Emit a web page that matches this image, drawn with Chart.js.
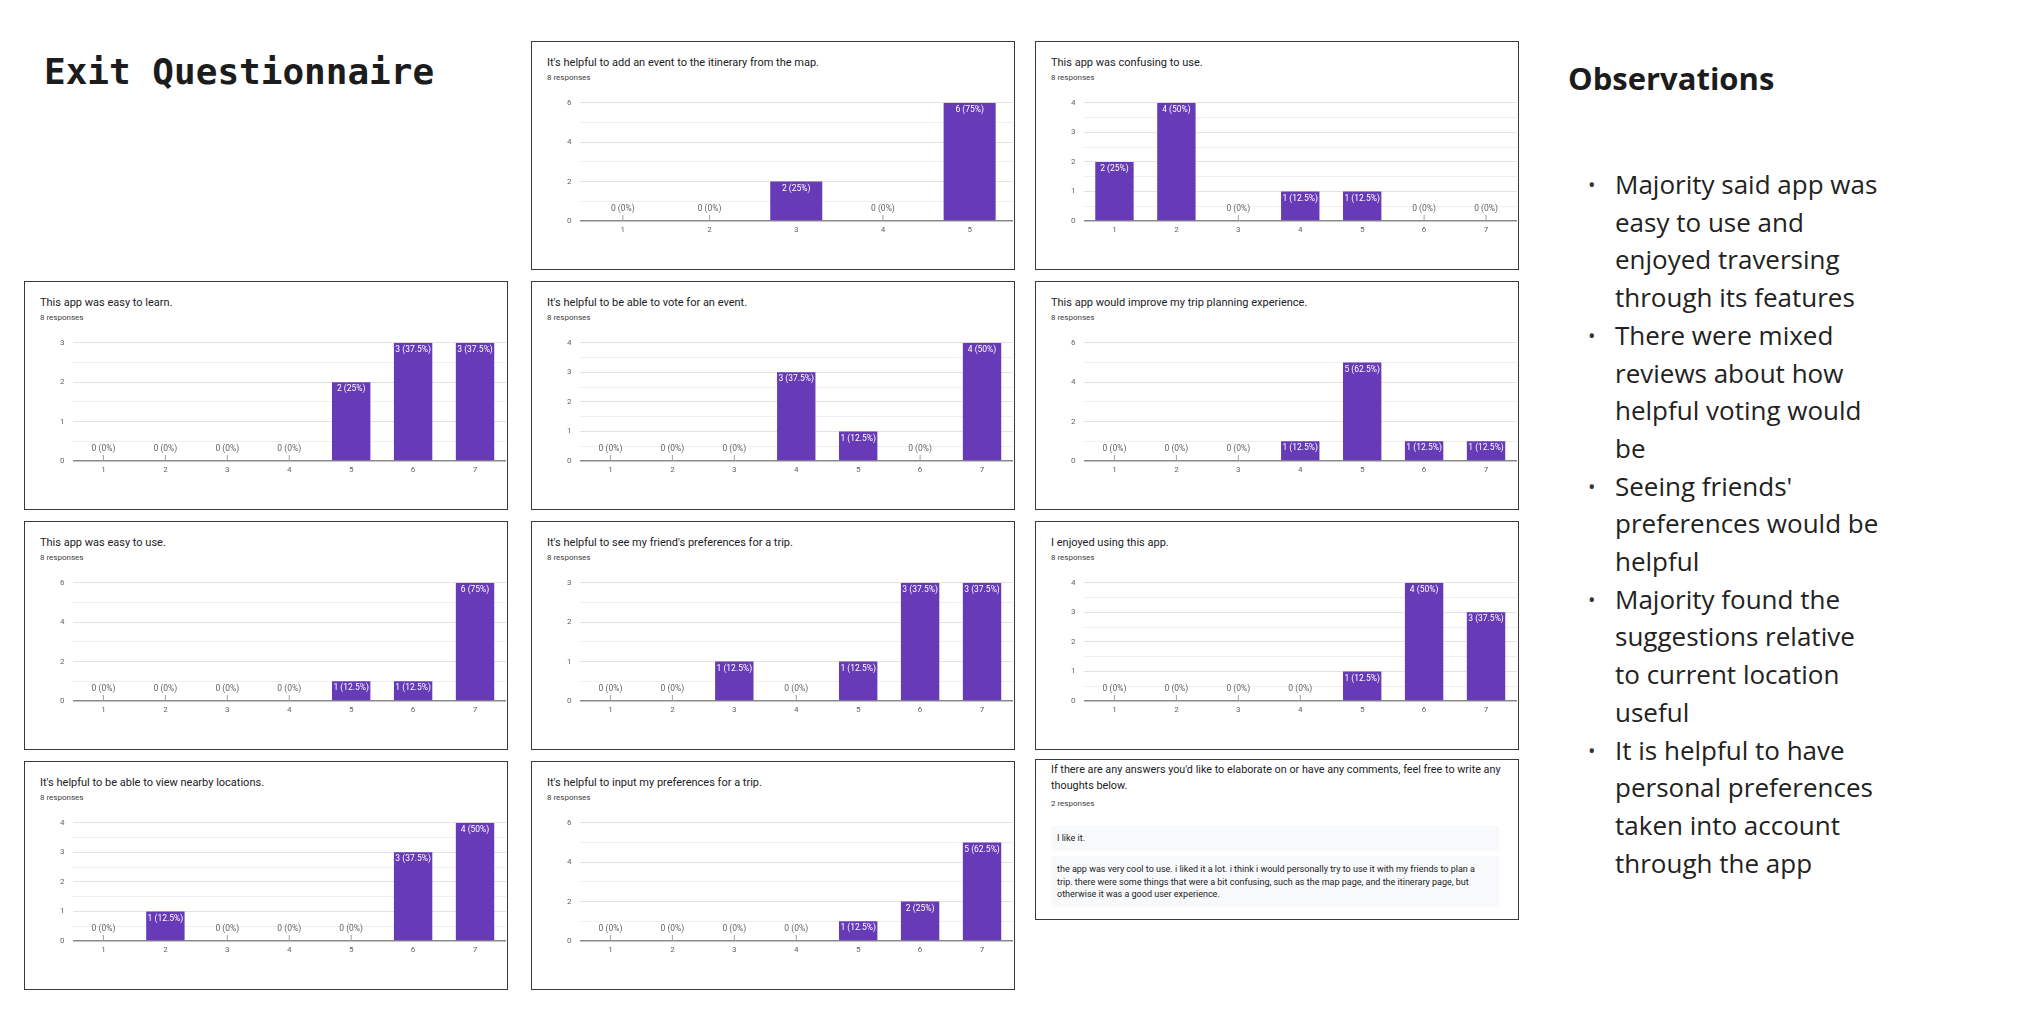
<!DOCTYPE html>
<html>
<head>
<meta charset="utf-8">
<script src="https://cdn.jsdelivr.net/npm/chart.js@4.4.0/dist/chart.umd.min.js"></script>
<style>
  html, body { margin: 0; padding: 0; background: #fff; }
  #slide { position: relative; width: 2017px; height: 1016px; overflow: hidden; }
  .title { position: absolute; left: 44px; top: 54px; margin: 0; font: bold 36px/36px "DejaVu Sans Mono", monospace; color: #1c1c1c; }
  .panel { position: absolute; width: 484px; height: 229px; box-sizing: border-box; border: 1.5px solid #3a3a3a; background: #fff; font-family: Roboto, Arial, sans-serif; }
  .panel .q { position: absolute; left: 15px; top: 14px; font-size: 11px; line-height: 14px; color: #202124; white-space: nowrap; }
  .panel .n { position: absolute; left: 15px; top: 30px; font-size: 8px; line-height: 12px; color: #3c4043; }
  .panel canvas { position: absolute; left: 0; top: 48px; }
  .textpanel { height: 161px; }
  .textpanel .q { top: 2px; font-size: 10.8px; line-height: 16px; white-space: normal; width: 460px; }
  .textpanel .n { top: 38px; }
  .answer { position: absolute; left: 15px; width: 448px; background: #f8f9fa; font-size: 9px; line-height: 12.5px; color: #202124; box-sizing: border-box; padding: 0 6px; }
  .obs-h { position: absolute; left: 1568px; top: 63px; margin: 0; font: 700 31px/31px "Open Sans", sans-serif; color: #1c1c1c; }
  .obs { position: absolute; left: 1588px; top: 166px; margin: 0; padding: 0; list-style: none; font: 400 26px/37.7px "Open Sans", sans-serif; color: #222; white-space: nowrap; }
  .obs li { position: relative; padding-left: 27px; }
  .obs li::before { content: "\2022"; position: absolute; left: 0; top: 0; font-size: 20px; color: #333; }
</style>
</head>
<body>
<div id="slide">
  <h1 class="title">Exit Questionnaire</h1>

  <div class="panel" style="left:531px;top:41px">
    <div class="q">It's helpful to add an event to the itinerary from the map.</div>
    <div class="n">8 responses</div>
    <canvas id="addFromMap" width="481" height="176"></canvas>
  </div>
  <div class="panel" style="left:1035px;top:41px">
    <div class="q">This app was confusing to use.</div>
    <div class="n">8 responses</div>
    <canvas id="confusing" width="481" height="176"></canvas>
  </div>

  <div class="panel" style="left:24px;top:281px">
    <div class="q">This app was easy to learn.</div>
    <div class="n">8 responses</div>
    <canvas id="easyToLearn" width="481" height="176"></canvas>
  </div>
  <div class="panel" style="left:531px;top:281px">
    <div class="q">It's helpful to be able to vote for an event.</div>
    <div class="n">8 responses</div>
    <canvas id="voteForEvent" width="481" height="176"></canvas>
  </div>
  <div class="panel" style="left:1035px;top:281px">
    <div class="q">This app would improve my trip planning experience.</div>
    <div class="n">8 responses</div>
    <canvas id="improvesTrip" width="481" height="176"></canvas>
  </div>

  <div class="panel" style="left:24px;top:521px">
    <div class="q">This app was easy to use.</div>
    <div class="n">8 responses</div>
    <canvas id="easyToUse" width="481" height="176"></canvas>
  </div>
  <div class="panel" style="left:531px;top:521px">
    <div class="q">It's helpful to see my friend's preferences for a trip.</div>
    <div class="n">8 responses</div>
    <canvas id="friendsPrefs" width="481" height="176"></canvas>
  </div>
  <div class="panel" style="left:1035px;top:521px">
    <div class="q">I enjoyed using this app.</div>
    <div class="n">8 responses</div>
    <canvas id="enjoyed" width="481" height="176"></canvas>
  </div>

  <div class="panel" style="left:24px;top:761px">
    <div class="q">It's helpful to be able to view nearby locations.</div>
    <div class="n">8 responses</div>
    <canvas id="nearby" width="481" height="176"></canvas>
  </div>
  <div class="panel" style="left:531px;top:761px">
    <div class="q">It's helpful to input my preferences for a trip.</div>
    <div class="n">8 responses</div>
    <canvas id="inputPrefs" width="481" height="176"></canvas>
  </div>
  <div class="panel textpanel" style="left:1035px;top:759px">
    <div class="q">If there are any answers you'd like to elaborate on or have any comments, feel free to write any<br>thoughts below.</div>
    <div class="n">2 responses</div>
    <div class="answer" style="top:66px;height:25px;line-height:25px">I like it.</div>
    <div class="answer" style="top:96px;height:51px;padding-top:7px">the app was very cool to use. i liked it a lot. i think i would personally try to use it with my friends to plan a<br>trip. there were some things that were a bit confusing, such as the map page, and the itinerary page, but<br>otherwise it was a good user experience.</div>
  </div>

  <h2 class="obs-h">Observations</h2>
  <ul class="obs">
    <li>Majority said app was<br>easy to use and<br>enjoyed traversing<br>through its features</li>
    <li>There were mixed<br>reviews about how<br>helpful voting would<br>be</li>
    <li>Seeing friends'<br>preferences would be<br>helpful</li>
    <li>Majority found the<br>suggestions relative<br>to current location<br>useful</li>
    <li>It is helpful to have<br>personal preferences<br>taken into account<br>through the app</li>
  </ul>
</div>

<script>
// answer scales
const likert5 = ['1', '2', '3', '4', '5'];
const likert7 = ['1', '2', '3', '4', '5', '6', '7'];
const respondents = 8;

// number of answers per scale point
const addFromMap   = [0, 0, 2, 0, 6];
const confusing    = [2, 4, 0, 1, 1, 0, 0];
const easyToLearn  = [0, 0, 0, 0, 2, 3, 3];
const voteForEvent = [0, 0, 0, 3, 1, 0, 4];
const improvesTrip = [0, 0, 0, 1, 5, 1, 1];
const easyToUse    = [0, 0, 0, 0, 1, 1, 6];
const friendsPrefs = [0, 0, 1, 0, 1, 3, 3];
const enjoyed      = [0, 0, 0, 0, 1, 4, 3];
const nearby       = [0, 1, 0, 0, 0, 3, 4];
const inputPrefs   = [0, 0, 0, 0, 1, 2, 5];

// top of each y axis
const axisTops = {
    addFromMap: 6, confusing: 4, easyToLearn: 3, voteForEvent: 4, improvesTrip: 6,
    easyToUse: 6, friendsPrefs: 3, enjoyed: 4, nearby: 4, inputPrefs: 6
};

const purple = '#673ab7';
Chart.defaults.font.family = 'Roboto, Arial, sans-serif';
Chart.defaults.color = '#5f6368';

// "n (x%)" labels like google forms draws them
const barLabels = {
    id: 'barLabels',
    afterDatasetsDraw(chart) {
        const ctx = chart.ctx;
        const values = chart.data.datasets[0].data;
        ctx.save();
        ctx.font = '8.5px Roboto, Arial, sans-serif';
        ctx.textAlign = 'center';
        ctx.textBaseline = 'middle';
        chart.getDatasetMeta(0).data.forEach((bar, i) => {
            const v = values[i];
            const txt = v + ' (' + (v / respondents * 100) + '%)';
            if (v > 0) {
                ctx.fillStyle = '#fff';
                ctx.fillText(txt, bar.x, bar.y + 7);
            } else {
                ctx.strokeStyle = '#a0a0a0';
                ctx.lineWidth = 1;
                ctx.beginPath();
                ctx.moveTo(bar.x, bar.base);
                ctx.lineTo(bar.x, bar.base - 6);
                ctx.stroke();
                ctx.fillStyle = '#5f6368';
                ctx.fillText(txt, bar.x, bar.base - 12);
            }
        });
        ctx.restore();
    }
};

const configBar = (labels, values, yMax) => {
    const step = yMax > 4 ? 1 : 0.5;
    const every = yMax > 4 ? 2 : 1;
    return {
        type: 'bar',
        data: {
            labels: labels,
            datasets: [{
                data: values,
                backgroundColor: purple,
                barPercentage: labels.length == 5 ? 0.6 : 0.62,
                categoryPercentage: 1
            }]
        },
        options: {
            responsive: false,
            animation: false,
            events: [],
            layout: { padding: { top: 12, right: 0, bottom: 0, left: 0 } },
            plugins: { legend: { display: false }, tooltip: { enabled: false } },
            scales: {
                x: {
                    grid: { display: false, drawTicks: false },
                    border: { display: false },
                    ticks: { font: { size: 8 }, padding: 4, color: '#5f6368' },
                    afterFit: (scale) => { scale.height = 45; }
                },
                y: {
                    min: 0,
                    max: yMax,
                    border: { display: false },
                    grid: {
                        drawTicks: false,
                        color: (c) => c.tick.value === 0 ? '#8a8a8a' : (c.tick.value % every === 0 ? '#e3e3e3' : '#efefef'),
                        lineWidth: (c) => c.tick.value === 0 ? 1.5 : 1
                    },
                    ticks: {
                        stepSize: step,
                        autoSkip: false,
                        padding: 8,
                        font: { size: 8 },
                        color: '#5f6368',
                        callback: (v) => v % every === 0 ? v : ''
                    },
                    afterFit: (scale) => { scale.width = 47.5; }
                }
            }
        },
        plugins: [barLabels]
    };
};

const drawChart = (id, labels, values) => {
    new Chart(document.getElementById(id), configBar(labels, values, axisTops[id]));
};

drawChart('addFromMap', likert5, addFromMap);
drawChart('confusing', likert7, confusing);
drawChart('easyToLearn', likert7, easyToLearn);
drawChart('voteForEvent', likert7, voteForEvent);
drawChart('improvesTrip', likert7, improvesTrip);
drawChart('easyToUse', likert7, easyToUse);
drawChart('friendsPrefs', likert7, friendsPrefs);
drawChart('enjoyed', likert7, enjoyed);
drawChart('nearby', likert7, nearby);
drawChart('inputPrefs', likert7, inputPrefs);
</script>
</body>
</html>
